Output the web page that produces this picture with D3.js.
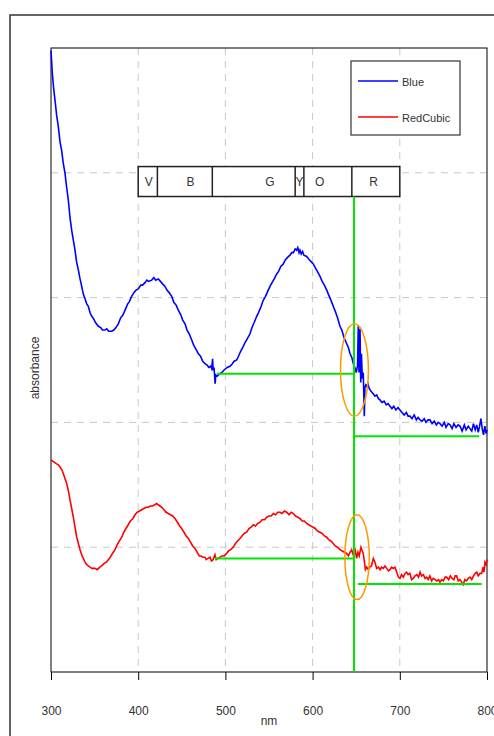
<!DOCTYPE html>
<html>
<head>
<meta charset="utf-8">
<script src="https://cdn.jsdelivr.net/npm/d3@7"></script>
<style>
  body { margin: 0; background: #fff; }
  text { font-family: "Liberation Sans", Arial, sans-serif; fill: #333; }
</style>
</head>
<body>
<div class="canvas"></div>
<script>
// x ticks (nm) and y gridlines (absorbance units, unlabeled)
const xTicks = [300, 400, 500, 600, 700, 800];
const yGrid = [1, 2, 3, 4];

// Spectra: [wavelength nm, absorbance]
const blueSeries = [[300,4.98],[301.5,4.80],[303,4.68],[304.6,4.58],[306.5,4.46],[308.4,4.37],[310.3,4.25],[312.2,4.18],[314,4.08],[316,4.00],[318,3.88],[319.9,3.78],[321.8,3.64],[323.7,3.54],[325.6,3.46],[327.5,3.38],[329.5,3.28],[331.4,3.22],[333.3,3.15],[335.2,3.09],[337,3.03],[339,2.99],[341,2.95],[342.8,2.93],[344.7,2.88],[346.7,2.85],[349,2.83],[351,2.80],[354.3,2.77],[357,2.76],[359,2.74],[361.9,2.74],[364,2.75],[366,2.73],[369.6,2.73],[372,2.74],[374.5,2.76],[377.2,2.79],[380,2.84],[382.5,2.86],[384.9,2.90],[388,2.95],[390,2.97],[392.5,3.01],[395,3.04],[397.5,3.06],[400.1,3.07],[403,3.10],[405,3.10],[407.8,3.12],[410,3.14],[412,3.13],[415.5,3.14],[418,3.16],[420,3.14],[423,3.15],[425.5,3.13],[428,3.11],[430.7,3.09],[433,3.06],[435.5,3.04],[438.4,3.01],[441,2.96],[443.5,2.94],[446,2.90],[449,2.86],[451,2.82],[453.7,2.79],[456,2.74],[458.5,2.71],[461.4,2.66],[463.5,2.62],[466,2.59],[469,2.55],[471.5,2.53],[474,2.49],[476.6,2.47],[479,2.46],[481,2.44],[483,2.45],[484.3,2.43],[485.3,2.51],[486,2.42],[487,2.44],[488.2,2.31],[489,2.38],[490.5,2.37],[493.8,2.39],[496,2.40],[498.5,2.42],[502,2.44],[505.3,2.45],[508,2.47],[510,2.49],[513,2.50],[515,2.53],[517.5,2.57],[520.5,2.61],[522.5,2.64],[525,2.67],[528.2,2.71],[530.5,2.76],[533,2.80],[535.9,2.85],[538,2.88],[541,2.93],[543.5,2.98],[546,3.01],[548.5,3.05],[551.1,3.09],[553.5,3.12],[556,3.15],[558.8,3.19],[561,3.21],[563.5,3.25],[566.4,3.27],[568.5,3.30],[571,3.32],[574,3.34],[576,3.36],[578,3.36],[580,3.39],[581.7,3.38],[583,3.40],[584.5,3.36],[585.5,3.38],[587,3.35],[588.5,3.37],[590,3.34],[593.2,3.33],[595.5,3.31],[598,3.29],[600.8,3.27],[603,3.24],[605.5,3.21],[608.5,3.17],[611,3.13],[613.5,3.10],[616.2,3.06],[618.5,3.02],[621,2.98],[623.7,2.93],[626,2.89],[628.5,2.84],[631.4,2.77],[633.5,2.74],[636,2.68],[639.1,2.63],[641,2.60],[643,2.55],[645,2.52],[646.7,2.47],[648.5,2.44],[650,2.40],[651.5,2.45],[652.4,2.78],[653.2,2.40],[654.4,2.75],[655.2,2.32],[656,2.55],[657,2.35],[658.1,2.40],[658.8,2.20],[659.3,2.05],[660,2.28],[661,2.30],[662,2.29],[663.5,2.31],[665,2.27],[667,2.25],[669.6,2.23],[671.5,2.21],[673.5,2.22],[675.5,2.19],[677.3,2.18],[679.5,2.16],[682,2.17],[684.5,2.14],[686.5,2.15],[688.8,2.13],[691,2.11],[693,2.13],[695.5,2.10],[698,2.12],[700.2,2.10],[702.5,2.08],[705,2.06],[707.5,2.08],[709.5,2.05],[711.7,2.05],[714,2.03],[716.5,2.06],[719,2.02],[721,2.04],[723.2,2.02],[725.5,2.01],[728,2.03],[730,2.00],[732.5,2.02],[734.6,2.02],[737,1.99],[739.5,2.01],[742,1.98],[744,2.00],[746.1,1.99],[748.5,1.97],[751,2.00],[753,1.96],[755.5,1.99],[757.6,1.98],[760,1.95],[762,1.99],[764.5,1.96],[767,1.98],[769,1.97],[771.5,1.93],[774,1.98],[776,1.94],[778.5,1.97],[780.5,1.95],[782.5,1.93],[784.5,1.99],[786.5,1.94],[788.2,1.98],[790,1.92],[791.5,1.97],[793,2.03],[794.5,1.95],[796,1.90],[797.5,1.97],[799,1.91],[800,1.94]];

const redSeries = [[300,1.70],[302,1.69],[304,1.68],[306,1.67],[308.4,1.66],[310.5,1.64],[312.5,1.62],[314.1,1.59],[316,1.55],[318,1.51],[320,1.45],[321.8,1.38],[323.7,1.31],[325.6,1.24],[327.5,1.16],[329.5,1.08],[331.4,1.03],[333.3,0.98],[335.2,0.94],[337,0.91],[339,0.88],[341,0.86],[342.8,0.85],[344.7,0.84],[347,0.83],[350.5,0.83],[353,0.82],[356,0.84],[358.1,0.85],[361,0.87],[363.5,0.88],[365.7,0.90],[368,0.92],[370.5,0.95],[373.4,0.98],[376,1.02],[378.5,1.05],[381.1,1.08],[383.5,1.12],[386,1.15],[388.6,1.18],[391,1.21],[394,1.23],[396.3,1.26],[399,1.28],[401.5,1.29],[404,1.30],[406.5,1.31],[409,1.32],[411.6,1.32],[414,1.33],[416.5,1.33],[419,1.34],[421.2,1.35],[423,1.34],[425,1.33],[427,1.32],[429.5,1.30],[432,1.28],[434.5,1.27],[437,1.26],[439.5,1.25],[442.2,1.23],[445,1.20],[447.5,1.17],[449.9,1.15],[452.5,1.12],[455,1.09],[457.5,1.07],[460,1.04],[462.5,1.01],[465.1,0.99],[467.5,0.96],[470,0.93],[472,0.93],[474.5,0.92],[476.5,0.92],[478,0.90],[480,0.91],[482.3,0.92],[484,0.89],[486,0.90],[488,0.94],[489.5,0.90],[491.5,0.91],[493.8,0.92],[496,0.93],[498.5,0.93],[501.4,0.95],[503.5,0.97],[506,0.98],[509,1.00],[511.5,1.03],[514,1.05],[516.7,1.07],[519,1.09],[521.5,1.11],[524.4,1.12],[527,1.15],[529.5,1.16],[532,1.18],[534.5,1.17],[537,1.19],[539.7,1.20],[542,1.22],[545,1.22],[547.4,1.24],[550,1.25],[552.5,1.25],[555,1.27],[557.5,1.26],[560,1.28],[562.6,1.28],[565,1.27],[567.5,1.29],[570.3,1.28],[573,1.26],[575.5,1.28],[577.9,1.27],[580.5,1.25],[583,1.24],[585.5,1.23],[588,1.21],[590.5,1.21],[593.2,1.19],[595.5,1.18],[598,1.17],[600.8,1.16],[603,1.15],[605.5,1.13],[608.5,1.12],[611,1.11],[613.5,1.09],[616.2,1.08],[618.5,1.06],[621,1.05],[623.7,1.03],[626,1.01],[628.5,1.00],[631.4,0.98],[634,0.97],[636.5,0.96],[639.1,0.95],[641,0.93],[643,0.96],[644.8,0.98],[646.5,0.94],[648.6,0.99],[650.5,0.91],[652,0.96],[653.5,0.93],[655.5,1.00],[657,0.97],[658.1,0.95],[659.5,0.88],[660.5,0.82],[662,0.84],[663.9,0.82],[665.5,0.84],[667.5,0.85],[669.6,0.91],[671.5,0.88],[673.5,0.83],[675.5,0.84],[677.5,0.82],[679,0.84],[681.1,0.83],[683,0.85],[685,0.83],[687,0.81],[688.8,0.82],[690.5,0.84],[692.5,0.83],[694.5,0.84],[696.5,0.80],[698.5,0.76],[700.2,0.75],[702,0.78],[704,0.76],[706,0.79],[707.8,0.80],[709.5,0.78],[711.5,0.79],[713.5,0.74],[715.5,0.75],[717.5,0.77],[719.5,0.78],[721.5,0.76],[723.2,0.80],[725,0.77],[727,0.78],[729,0.75],[730.8,0.76],[732.5,0.74],[734.5,0.77],[736.5,0.73],[738.4,0.75],[740.5,0.74],[742.5,0.73],[744.5,0.74],[746.1,0.72],[748,0.74],[750,0.73],[752,0.76],[753.7,0.76],[756,0.74],[758,0.77],[760,0.75],[762,0.74],[763.5,0.77],[765.2,0.77],[767,0.73],[769,0.74],[771,0.72],[772.8,0.70],[774.5,0.74],[776.5,0.73],[778.5,0.75],[780.5,0.76],[782.5,0.74],[784.5,0.77],[786.5,0.79],[788.2,0.80],[790,0.77],[792,0.79],[793.9,0.79],[795.5,0.84],[796.5,0.80],[797.7,0.88],[799,0.86],[800,0.90]];

// Colour band box: boundaries in nm and labels with their positions
const bandEdges = [400, 422, 485, 580, 590, 645, 700];
const bandLabels = ["V", "B", "G", "Y", "O", "R"];
const bandLabelNm = [412, 460, 551, 585, 608, 670];
const bandTop = 4.05, bandBottom = 3.81;

// Green marker lines: [x1, y1, x2, y2] in nm / absorbance
const greenLines = [
  [647.5, 0, 647.5, 3.81],
  [490, 2.39, 647.5, 2.39],
  [647.5, 1.89, 791, 1.89],
  [488, 0.91, 647.5, 0.91],
  [652, 0.705, 794, 0.705]
];
// Orange ellipses: [cx nm, cy abs, rx nm, ry abs]
const ellipses = [[648, 2.42, 16, 0.37], [651, 0.92, 14, 0.34]];

const width = 494, height = 736;
const margin = { top: 48, right: 7, bottom: 64, left: 51 };
const graphWidth = width - margin.left - margin.right;
const graphHeight = height - margin.top - margin.bottom;

const svg = d3.select(".canvas").append("svg")
  .attr("width", width)
  .attr("height", height);

// outer chart border (runs past the window on right / bottom)
svg.append("rect")
  .attr("x", 10).attr("y", 15)
  .attr("width", 600).attr("height", 800)
  .attr("fill", "none").attr("stroke", "#333").attr("stroke-width", 1.5);

const graph = svg.append("g")
  .attr("transform", `translate(${margin.left}, ${margin.top})`);

const x = d3.scaleLinear().domain([300, 800]).range([0, graphWidth]);
const y = d3.scaleLinear().domain([0, 5]).range([graphHeight, 0]);

// gridlines
graph.selectAll(".vgrid").data(xTicks.slice(1, -1)).enter().append("line")
  .attr("x1", d => x(d)).attr("x2", d => x(d))
  .attr("y1", 0).attr("y2", graphHeight)
  .attr("stroke", "#c8c8c8").attr("stroke-dasharray", "7,6");
graph.selectAll(".hgrid").data(yGrid).enter().append("line")
  .attr("x1", 0).attr("x2", graphWidth)
  .attr("y1", d => y(d)).attr("y2", d => y(d))
  .attr("stroke", "#c8c8c8").attr("stroke-dasharray", "7,6");

// x axis
const xAxisGroup = graph.append("g")
  .attr("transform", `translate(0, ${graphHeight})`)
  .call(d3.axisBottom(x).tickValues(xTicks).tickSize(8).tickPadding(26).tickFormat(d3.format("d")));
xAxisGroup.select(".domain").remove();
xAxisGroup.selectAll("line").attr("stroke", "#000");
xAxisGroup.selectAll("text")
  .style("font-family", "'Liberation Sans', Arial, sans-serif")
  .style("font-size", "12px").attr("fill", "#333");

// plot frame
graph.append("rect")
  .attr("width", graphWidth).attr("height", graphHeight)
  .attr("fill", "none").attr("stroke", "#000").attr("stroke-width", 1);

// axis titles
svg.append("text").attr("x", 269).attr("y", 725)
  .attr("text-anchor", "middle").style("font-size", "12px").text("nm");
svg.append("text")
  .attr("transform", "translate(39, 368) rotate(-90)")
  .attr("text-anchor", "middle").style("font-size", "12px").text("absorbance");

// colour band box
graph.append("rect")
  .attr("x", x(bandEdges[0])).attr("y", y(bandTop))
  .attr("width", x(bandEdges[bandEdges.length - 1]) - x(bandEdges[0]))
  .attr("height", y(bandBottom) - y(bandTop))
  .attr("fill", "#fff").attr("stroke", "#222").attr("stroke-width", 1.5);
graph.selectAll(".band-edge").data(bandEdges.slice(1, -1)).enter().append("line")
  .attr("x1", d => x(d)).attr("x2", d => x(d))
  .attr("y1", y(bandTop)).attr("y2", y(bandBottom))
  .attr("stroke", "#222").attr("stroke-width", 1.5);
graph.selectAll(".band-label").data(bandLabels).enter().append("text")
  .attr("x", (d, i) => x(bandLabelNm[i]))
  .attr("y", (y(bandTop) + y(bandBottom)) / 2 + 4)
  .attr("text-anchor", "middle").style("font-size", "12px")
  .text(d => d);

// spectra
const line = d3.line().x(d => x(d[0])).y(d => y(d[1]));
graph.append("path").datum(blueSeries)
  .attr("d", line).attr("fill", "none").attr("stroke", "#0000ff").attr("stroke-width", 1.6);
graph.append("path").datum(redSeries)
  .attr("d", line).attr("fill", "none").attr("stroke", "#ff0000").attr("stroke-width", 1.6);

// green marker lines
graph.selectAll(".green").data(greenLines).enter().append("line")
  .attr("x1", d => x(d[0])).attr("y1", d => y(d[1]))
  .attr("x2", d => x(d[2])).attr("y2", d => y(d[3]))
  .attr("stroke", "#00e600").attr("stroke-width", 2);

// orange ellipses
graph.selectAll(".ring").data(ellipses).enter().append("ellipse")
  .attr("cx", d => x(d[0])).attr("cy", d => y(d[1]))
  .attr("rx", d => x(d[0] + d[2]) - x(d[0]))
  .attr("ry", d => y(0) - y(d[3]))
  .attr("fill", "none").attr("stroke", "#ff9900").attr("stroke-width", 1.5);

// legend
const legend = svg.append("g").attr("transform", "translate(351, 61)");
legend.append("rect").attr("width", 109).attr("height", 74)
  .attr("fill", "#fff").attr("stroke", "#333").attr("stroke-width", 1.2);
const legendItems = [["Blue", "#0000ff", 20], ["RedCubic", "#ff0000", 56]];
legendItems.forEach(([name, colour, yy]) => {
  legend.append("line").attr("x1", 7).attr("x2", 47).attr("y1", yy).attr("y2", yy)
    .attr("stroke", colour).attr("stroke-width", 1.6);
  legend.append("text").attr("x", 51).attr("y", yy + 5)
    .style("font-size", "11px").text(name);
});
</script>
</body>
</html>
